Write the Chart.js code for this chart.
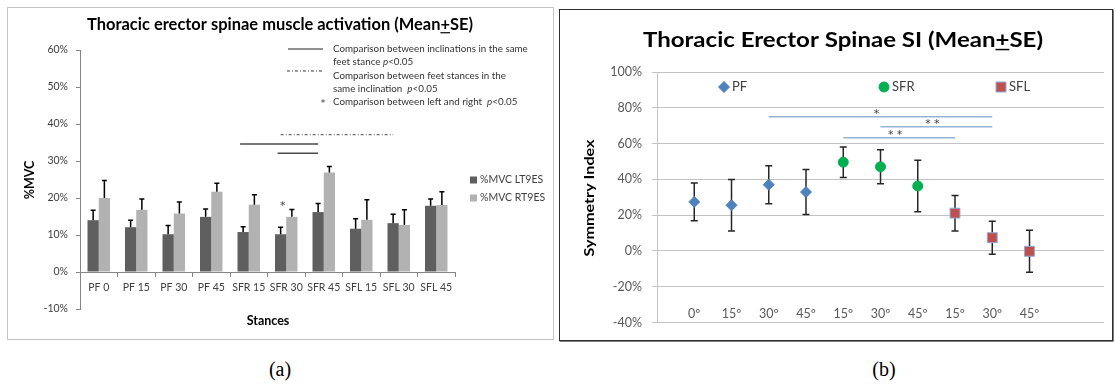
<!DOCTYPE html>
<html>
<head>
<meta charset="utf-8">
<script src="https://cdn.jsdelivr.net/npm/chart.js@4.4.0/dist/chart.umd.min.js"></script>
<style>
  body { margin: 0; background: #fff; width: 1115px; height: 391px; position: relative; overflow: hidden; }
  #boxA { position: absolute; left: 7px; top: 7px; width: 545px; height: 331px; border: 1px solid #c4c4c4; }
  #boxB { position: absolute; left: 559px; top: 9px; width: 552px; height: 330px; border: 1px solid #2e2e2e; box-shadow: 0.6px 0.6px 0 #2e2e2e; }
  canvas { position: absolute; left: 0; top: 0; }
  .caption { position: absolute; top: 358px; font: 20px "Liberation Serif", serif; color: #000; transform: translateX(-50%); }
</style>
</head>
<body>
<div id="boxA"><canvas id="mvcChart" width="545" height="331"></canvas></div>
<div id="boxB"><canvas id="siChart" width="552" height="330"></canvas></div>
<div class="caption" style="left:280px">(a)</div>
<div class="caption" style="left:884px">(b)</div>
<script>
// --- activation (%MVC) per stance ---
const stances = ['PF 0', 'PF 15', 'PF 30', 'PF 45', 'SFR 15', 'SFR 30', 'SFR 45', 'SFL 15', 'SFL 30', 'SFL 45'];
const mvcLeft    = [14.0, 12.1, 10.2, 14.9, 10.8, 10.2, 16.2, 11.7, 13.2, 17.9];
const mvcLeftSE  = [2.7, 1.9, 2.4, 2.1, 1.4, 1.9, 2.3, 2.7, 2.4, 1.8];
const mvcRight   = [20.0, 16.8, 15.8, 21.7, 18.2, 14.9, 26.9, 14.1, 12.7, 18.1];
const mvcRightSE = [4.7, 2.9, 3.1, 2.3, 2.7, 2.0, 1.6, 5.4, 4.1, 3.6];
const mvcTicks = [-10, 0, 10, 20, 30, 40, 50, 60];

// significance marks: category index ranges and the % level they sit at
const inclinationLinks = [{ from: 4, to: 6, level: 34.6 }, { from: 5, to: 6, level: 32.1 }];
const stanceLinks = [{ from: 5, to: 8, level: 37.1 }];
const sideStars = [{ at: 5, level: 18.3 }];

// --- symmetry index per stance ---
const angleLabels = ['0º', '15º', '30º', '45º', '15º', '30º', '45º', '15º', '30º', '45º'];
const siPF = [27.4, 25.5, 37.0, 32.9];
const siPFSE = [10.5, 14.4, 10.6, 12.6];
const siSFR = [49.6, 47.0, 36.3];
const siSFRSE = [8.5, 9.5, 14.4];
const siSFL = [21.1, 7.4, -0.2];
const siSFLSE = [9.9, 9.2, 11.7];
const siTicks = [-40, -20, 0, 20, 40, 60, 80, 100];
const siLinks = [
  { from: 3, to: 9, level: 75, mark: '*' },
  { from: 6, to: 9, level: 69.4, mark: '**' },
  { from: 5, to: 8, level: 63.3, mark: '**' }
];

Chart.defaults.font.family = 'Lato, sans-serif';

// draws a row of text runs (italic / underlined pieces), optionally squeezed to a width
function drawRuns(ctx, runs, x, y, o) {
  const fam = o.family || 'Lato, sans-serif';
  const fontFor = r => `${r.i ? 'italic ' : ''}${o.weight || 'normal'} ${o.size}px ${fam}`;
  ctx.save();
  ctx.textBaseline = 'middle';
  ctx.textAlign = 'left';
  ctx.fillStyle = o.color || '#000';
  let w = 0;
  runs.forEach(r => { ctx.font = fontFor(r); r.w = ctx.measureText(r.t).width; w += r.w; });
  const sx = o.fit ? o.fit / w : 1;
  ctx.translate(x, y);
  if (o.rotate) ctx.rotate(-Math.PI / 2);
  ctx.scale(sx, 1);
  let cx = o.align === 'center' ? -w / 2 : 0;
  runs.forEach(r => {
    ctx.font = fontFor(r);
    ctx.fillText(r.t, cx, 0);
    if (r.u) ctx.fillRect(cx, o.size * 0.42, r.w, Math.max(1, o.size * 0.07));
    cx += r.w;
  });
  ctx.restore();
}

const mvcDecor = {
  id: 'mvcDecor',
  afterDatasetsDraw(chart) {
    const ctx = chart.ctx, y = chart.scales.y;
    // error bars, positive side only
    chart.data.datasets.forEach((ds, d) => {
      chart.getDatasetMeta(d).data.forEach((bar, i) => {
        const top = y.getPixelForValue(ds.data[i] + ds.se[i]);
        ctx.save();
        ctx.strokeStyle = '#000';
        ctx.lineWidth = 1.5;
        ctx.beginPath();
        ctx.moveTo(bar.x, bar.y);
        ctx.lineTo(bar.x, top);
        ctx.moveTo(bar.x - 2.5, top);
        ctx.lineTo(bar.x + 2.5, top);
        ctx.stroke();
        ctx.restore();
      });
    });
    const left = chart.getDatasetMeta(0).data;
    ctx.save();
    ctx.strokeStyle = '#4a4a4a';
    ctx.lineWidth = 1.6;
    inclinationLinks.forEach(l => {
      const py = y.getPixelForValue(l.level);
      ctx.beginPath();
      ctx.moveTo(left[l.from].x - 3, py);
      ctx.lineTo(left[l.to].x, py);
      ctx.stroke();
    });
    ctx.lineWidth = 1;
    ctx.setLineDash([3, 2, 1, 2]);
    stanceLinks.forEach(l => {
      const py = y.getPixelForValue(l.level);
      ctx.beginPath();
      ctx.moveTo(left[l.from].x, py);
      ctx.lineTo(left[l.to].x, py);
      ctx.stroke();
    });
    ctx.restore();
    sideStars.forEach(s => {
      drawRuns(ctx, [{ t: '*' }], left[s.at].x + 2, y.getPixelForValue(s.level) + 2,
        { size: 11, color: '#404040', align: 'center', family: 'DejaVu Sans, sans-serif' });
    });
  },
  afterDraw(chart) {
    const ctx = chart.ctx;
    drawRuns(ctx, [{ t: 'Thoracic erector spinae muscle activation (Mean' }, { t: '+', u: true }, { t: 'SE)' }],
      272, 17, { size: 17, weight: 'bold', align: 'center', fit: 386 });
    drawRuns(ctx, [{ t: '%MVC' }], 22, 172, { size: 12.5, weight: 'bold', align: 'center', rotate: true });
    drawRuns(ctx, [{ t: 'Stances' }], 260, 313, { size: 12.5, weight: 'bold', align: 'center' });

    // significance key
    const key = { size: 9.8, color: '#333' };
    ctx.save();
    ctx.strokeStyle = '#222';
    ctx.lineWidth = 1.2;
    ctx.beginPath(); ctx.moveTo(280, 41); ctx.lineTo(315, 41); ctx.stroke();
    ctx.lineWidth = 0.9;
    ctx.setLineDash([3, 2, 1, 2]);
    ctx.beginPath(); ctx.moveTo(279, 63); ctx.lineTo(315, 63); ctx.stroke();
    ctx.restore();
    drawRuns(ctx, [{ t: 'Comparison between inclinations in the same' }], 325, 41, key);
    drawRuns(ctx, [{ t: 'feet stance ' }, { t: 'p', i: true }, { t: '<0.05' }], 325, 54, key);
    drawRuns(ctx, [{ t: 'Comparison between feet stances in the' }], 325, 68, key);
    drawRuns(ctx, [{ t: 'same inclination  ' }, { t: 'p', i: true }, { t: '<0.05' }], 325, 81, key);
    drawRuns(ctx, [{ t: '*' }], 315, 96, { size: 9, color: '#333', align: 'center', family: 'DejaVu Sans, sans-serif' });
    drawRuns(ctx, [{ t: 'Comparison between left and right  ' }, { t: 'p', i: true }, { t: '<0.05' }], 325, 94, key);

    // series legend
    chart.data.datasets.forEach((ds, d) => {
      const ly = 172 + d * 18;
      ctx.fillStyle = ds.backgroundColor;
      ctx.fillRect(462, ly - 3.5, 7, 7);
      drawRuns(ctx, [{ t: ds.label }], 472, ly, { size: 10.5, color: '#404040' });
    });
  }
};

new Chart(document.getElementById('mvcChart'), {
  type: 'bar',
  data: {
    labels: stances,
    datasets: [
      { label: '%MVC LT9ES', data: mvcLeft, se: mvcLeftSE, backgroundColor: '#5f5f5f' },
      { label: '%MVC RT9ES', data: mvcRight, se: mvcRightSE, backgroundColor: '#b2b2b2' }
    ]
  },
  options: {
    responsive: false,
    animation: false,
    layout: { padding: { left: 0, top: 42, right: 98, bottom: 30 } },
    plugins: { legend: { display: false }, tooltip: { enabled: false } },
    datasets: { bar: { categoryPercentage: 0.6, barPercentage: 1 } },
    scales: {
      x: {
        position: { y: 0 },
        grid: { drawOnChartArea: false, tickLength: 4, color: '#868686' },
        border: { color: '#868686' },
        ticks: { color: '#404040', font: { size: 10.5 }, padding: 5, maxRotation: 0, autoSkip: false }
      },
      y: {
        min: mvcTicks[0],
        max: mvcTicks[mvcTicks.length - 1],
        afterFit(s) { s.width = 72; },
        afterBuildTicks(s) { s.ticks = mvcTicks.map(v => ({ value: v })); },
        grid: { drawOnChartArea: false, tickLength: 4, color: '#868686' },
        border: { color: '#868686' },
        ticks: { callback: v => v + '%', color: '#404040', font: { size: 10.5 }, padding: 8 }
      }
    }
  },
  plugins: [mvcDecor]
});

const siDecor = {
  id: 'siDecor',
  beforeDatasetsDraw(chart) {
    const ctx = chart.ctx, x = chart.scales.x, y = chart.scales.y;
    ctx.save();
    // significance links
    ctx.strokeStyle = '#95b3d7';
    ctx.lineWidth = 1.5;
    siLinks.forEach(l => {
      const py = y.getPixelForValue(l.level);
      ctx.beginPath();
      ctx.moveTo(x.getPixelForValue(l.from), py);
      ctx.lineTo(x.getPixelForValue(l.to), py);
      ctx.stroke();
    });
    // error bars
    ctx.strokeStyle = '#262626';
    chart.data.datasets.forEach(ds => {
      ds.data.forEach((p, i) => {
        const px = x.getPixelForValue(p.x);
        const t = y.getPixelForValue(p.y + ds.se[i]);
        const b = y.getPixelForValue(p.y - ds.se[i]);
        ctx.beginPath();
        ctx.moveTo(px, t); ctx.lineTo(px, b);
        ctx.moveTo(px - 3.5, t); ctx.lineTo(px + 3.5, t);
        ctx.moveTo(px - 3.5, b); ctx.lineTo(px + 3.5, b);
        ctx.stroke();
      });
    });
    ctx.restore();
    siLinks.forEach(l => {
      const mx = x.getPixelForValue((l.from + l.to) / 2) - 4;
      drawRuns(ctx, [{ t: l.mark.split('').join(' ') }], mx, y.getPixelForValue(l.level) - 3,
        { size: 11, color: '#404040', align: 'center', family: 'DejaVu Sans, sans-serif' });
    });
    // angle labels along the bottom of the plot
    angleLabels.forEach((t, i) => {
      drawRuns(ctx, [{ t }], x.getPixelForValue(i + 1), y.getPixelForValue(-35), { size: 12.5, color: '#595959', align: 'center' });
    });
  },
  afterDraw(chart) {
    const ctx = chart.ctx;
    drawRuns(ctx, [{ t: 'Thoracic Erector Spinae SI (Mean' }, { t: '+', u: true }, { t: 'SE)' }],
      283, 30, { size: 21, weight: 'bold', align: 'center', fit: 400 });
    drawRuns(ctx, [{ t: 'Symmetry Index' }], 30, 188, { size: 13, weight: 'bold', align: 'center', rotate: true, fit: 117 });

    // legend inside the plot
    const ly = 77;
    const marks = [[164, 'rectRot'], [324, 'circle'], [441, 'rect']];
    chart.data.datasets.forEach((ds, d) => {
      const [mx, style] = marks[d];
      ctx.save();
      ctx.fillStyle = ds.backgroundColor;
      ctx.strokeStyle = ds.borderColor;
      ctx.lineWidth = 1;
      ctx.beginPath();
      if (style === 'rectRot') {
        ctx.moveTo(mx, ly - 5.5); ctx.lineTo(mx + 5.5, ly); ctx.lineTo(mx, ly + 5.5); ctx.lineTo(mx - 5.5, ly);
        ctx.closePath();
      } else if (style === 'circle') {
        ctx.arc(mx, ly, 5, 0, Math.PI * 2);
      } else {
        ctx.rect(mx - 5, ly - 5, 10, 10);
      }
      ctx.fill();
      ctx.stroke();
      ctx.restore();
      drawRuns(ctx, [{ t: ds.label }], mx + 8, ly, { size: 13, color: '#404040' });
    });
  }
};

new Chart(document.getElementById('siChart'), {
  type: 'scatter',
  data: {
    datasets: [
      { label: 'PF', data: siPF.map((v, i) => ({ x: i + 1, y: v })), se: siPFSE,
        pointStyle: 'rectRot', pointRadius: 5.5, backgroundColor: '#4f81bd', borderColor: '#4f81bd' },
      { label: 'SFR', data: siSFR.map((v, i) => ({ x: i + 5, y: v })), se: siSFRSE,
        pointStyle: 'circle', pointRadius: 5, backgroundColor: '#00b050', borderColor: '#00b050' },
      { label: 'SFL', data: siSFL.map((v, i) => ({ x: i + 8, y: v })), se: siSFLSE,
        pointStyle: 'rect', pointRadius: 7, backgroundColor: '#c0504d', borderColor: '#8eaadb', borderWidth: 1 }
    ]
  },
  options: {
    responsive: false,
    animation: false,
    layout: { padding: { left: 0, top: 62, right: 1, bottom: 16 } },
    plugins: { legend: { display: false }, tooltip: { enabled: false } },
    scales: {
      x: { type: 'linear', min: 0, max: 12, display: false },
      y: {
        min: siTicks[0],
        max: siTicks[siTicks.length - 1],
        afterFit(s) { s.width = 97; },
        afterBuildTicks(s) { s.ticks = siTicks.map(v => ({ value: v })); },
        grid: { color: '#c3c3c3', tickLength: 5 },
        border: { color: '#c3c3c3' },
        ticks: { callback: v => v + '%', color: '#595959', font: { size: 12.5 }, padding: 10 }
      }
    }
  },
  plugins: [siDecor]
});
</script>
</body>
</html>
